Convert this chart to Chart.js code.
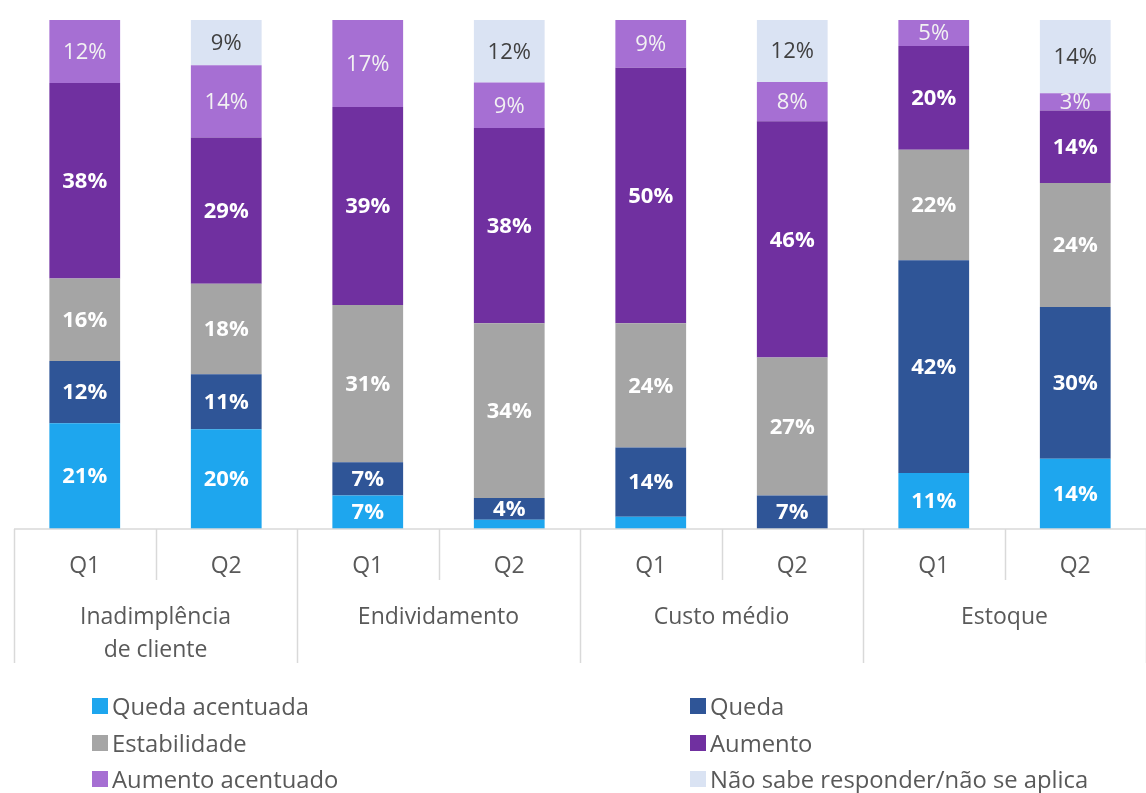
<!DOCTYPE html>
<html>
<head>
<meta charset="utf-8">
<script src="https://cdn.jsdelivr.net/npm/chart.js@4/dist/chart.umd.min.js"></script>
<style>
  html, body { margin: 0; padding: 0; background: #fff; }
  #wrap { position: relative; width: 1146px; height: 793px; overflow: hidden; }
  canvas { position: absolute; left: 0; top: 0; }
  .leg { position: absolute; font-family: 'Open Sans', sans-serif; font-size: 23.8px; color: #595959; white-space: nowrap; line-height: 28px; }
  .leg span.sw { position: absolute; left: 0; top: 6px; width: 16px; height: 16px; }
  .leg span.tx { position: absolute; left: 20px; top: 0; }
</style>
</head>
<body>
<div id="wrap">
  <canvas id="c" width="1146" height="793"></canvas>
</div>
<script>
const categories = ['Q1','Q2','Q1','Q2','Q1','Q2','Q1','Q2'];
const groups = [['Inadimplência','de cliente'], ['Endividamento'], ['Custo médio'], ['Estoque']];
const seriesNames = ['Queda acentuada','Queda','Estabilidade','Aumento','Aumento acentuado','Não sabe responder/não se aplica'];
const quedaAcentuada   = [20.8, 19.6,  6.6,  1.8,  2.4,  0.0, 11.0, 13.8];
const queda            = [12.2, 10.8,  6.5,  4.3, 13.6,  6.6, 41.8, 29.8];
const estabilidade     = [16.2, 17.8, 30.9, 34.3, 24.4, 27.1, 21.7, 24.4];
const aumento          = [38.4, 28.7, 38.9, 38.4, 50.2, 46.4, 20.4, 14.2];
const aumentoAcentuado = [12.4, 14.2, 17.1,  8.9,  9.4,  7.7,  5.1,  3.4];
const naoSabe          = [ 0.0,  8.9,  0.0, 12.3,  0.0, 12.2,  0.0, 14.4];

const colors = ['#1EA6EE','#2F5597','#A5A5A5','#7030A0','#A66FD3','#DAE3F3'];
const labelStyles = [
  {font:'bold 22px "Open Sans"', color:'#FFFFFF'},
  {font:'bold 22px "Open Sans"', color:'#FFFFFF'},
  {font:'bold 22px "Open Sans"', color:'#FFFFFF'},
  {font:'bold 22px "Open Sans"', color:'#FFFFFF'},
  {font:'22px "Open Sans"', color:'#F2F2F2'},
  {font:'22px "Open Sans"', color:'#404040'}
];
const allSeries = [quedaAcentuada, queda, estabilidade, aumento, aumentoAcentuado, naoSabe];

const datasets = allSeries.map((d,i)=>({
  label: seriesNames[i], data: d, backgroundColor: colors[i], borderWidth: 0,
  barPercentage: 0.5, categoryPercentage: 1.0
}));

const labelPlugin = {
  id: 'segLabels',
  afterDatasetsDraw(chart) {
    const ctx = chart.ctx;
    ctx.save();
    ctx.textAlign = 'center';
    ctx.textBaseline = 'middle';
    chart.data.datasets.forEach((ds, di) => {
      const meta = chart.getDatasetMeta(di);
      meta.data.forEach((el, i) => {
        const v = ds.data[i];
        if (v < 2.5) return;
        ctx.font = labelStyles[di].font;
        ctx.fillStyle = labelStyles[di].color;
        ctx.fillText(Math.round(v) + '%', el.x, (el.y + el.base) / 2 + 1);
      });
    });
    ctx.restore();
  }
};

const axisPlugin = {
  id: 'groupAxis',
  afterDraw(chart) {
    const ctx = chart.ctx;
    const area = chart.chartArea;
    const n = categories.length;
    const w = (area.right - area.left) / n;
    const y0 = area.bottom;
    ctx.save();
    ctx.strokeStyle = '#D9D9D9';
    ctx.lineWidth = 1.5;
    ctx.beginPath();
    ctx.moveTo(area.left, y0); ctx.lineTo(area.right, y0);
    for (let i = 0; i <= n; i++) {
      const x = Math.round(area.left + i * w) + 0.5;
      const len = (i % 2 === 0) ? 134 : 51;
      ctx.moveTo(x, y0); ctx.lineTo(x, y0 + len);
    }
    ctx.stroke();
    ctx.fillStyle = '#595959';
    ctx.font = '23px "Open Sans"';
    ctx.textAlign = 'center';
    ctx.textBaseline = 'middle';
    groups.forEach((g, gi) => {
      const cx = area.left + (2 * gi + 1) * w;
      g.forEach((line, li) => {
        ctx.fillText(line, cx, y0 + 88 + li * 33);
      });
    });
    ctx.restore();
  }
};

new Chart(document.getElementById('c'), {
  type: 'bar',
  data: { labels: categories, datasets },
  options: {
    responsive: false,
    animation: false,
    layout: { padding: { left: 14, right: 0, top: 20, bottom: 204 } },
    plugins: { legend: { display: false }, tooltip: { enabled: false } },
    scales: {
      x: {
        stacked: true,
        grid: { display: false },
        border: { display: false },
        ticks: { color: '#595959', font: { family: 'Open Sans', size: 23 }, padding: 16, maxRotation: 0, autoSkip: false },
        afterFit(s) { s.height = 60; }
      },
      y: { stacked: true, display: false, min: 0, max: 100 }
    }
  },
  plugins: [labelPlugin, axisPlugin]
});

// HTML legend
const legPos = [[92,692],[690,692],[92,729],[690,729],[92,765],[690,765]];
const wrap = document.getElementById('wrap');
seriesNames.forEach((name, k) => {
  const d = document.createElement('div');
  d.className = 'leg';
  d.style.left = legPos[k][0] + 'px';
  d.style.top = legPos[k][1] + 'px';
  d.innerHTML = '<span class="sw" style="background:' + colors[k] + '"></span><span class="tx"></span>';
  d.querySelector('.tx').textContent = name;
  wrap.appendChild(d);
});
</script>
</body>
</html>
